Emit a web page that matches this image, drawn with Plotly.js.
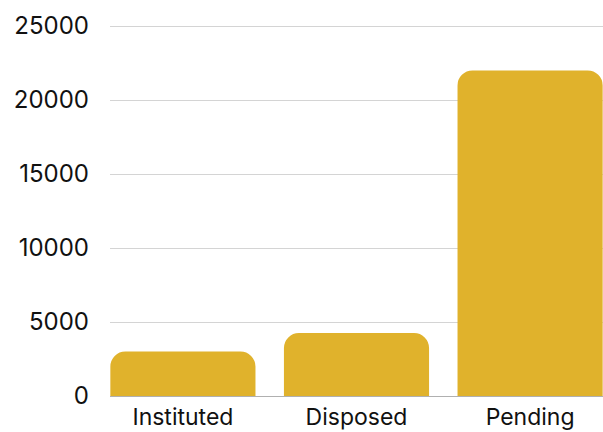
<!DOCTYPE html>
<html>
<head>
<meta charset="utf-8">
<script src="https://cdn.plot.ly/plotly-3.0.1.min.js"></script>
<style>html,body{margin:0;padding:0;background:#fff;}#chart{width:603px;height:432px;}</style>
</head>
<body>
<div id="chart"></div>
<script>
const categories = ["Instituted", "Disposed", "Pending"];
const values = [3000, 4250, 22000];
const yTicks = [0, 5000, 10000, 15000, 20000, 25000];

const trace = {
  type: "bar",
  x: categories,
  y: values,
  marker: { color: "#E0B22C", cornerradius: 15 },
  hoverinfo: "none"
};

const layout = {
  width: 603,
  height: 432,
  margin: { l: 110, r: 0, t: 25, b: 36 },
  paper_bgcolor: "#ffffff",
  plot_bgcolor: "#ffffff",
  bargap: 0.164,
  showlegend: false,
  font: { family: "Inter, 'Noto Sans', sans-serif", size: 23, color: "#111111" },
  xaxis: {
    range: [-0.42, 2.42],
    showgrid: false,
    showline: true,
    linecolor: "#b0b0b0",
    linewidth: 1,
    ticks: "",
    ticklabelstandoff: 0,
    tickfont: { size: 23, color: "#111111" }
  },
  yaxis: {
    range: [0, 25070],
    tickvals: yTicks,
    ticktext: yTicks.map(String),
    showgrid: true,
    gridcolor: "#d4d4d4",
    gridwidth: 1,
    zeroline: false,
    showline: false,
    ticks: "",
    ticklabelstandoff: 20,
    tickfont: { size: 24, color: "#111111" }
  }
};

Plotly.newPlot("chart", [trace], layout, { staticPlot: true, displayModeBar: false });
</script>
</body>
</html>
